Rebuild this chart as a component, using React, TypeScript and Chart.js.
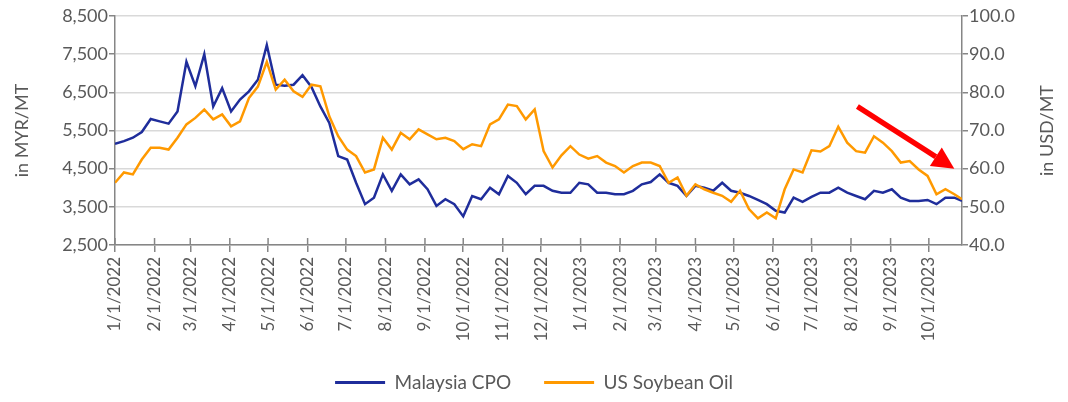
import { useEffect, useRef } from "react"
import { Chart, registerables } from "chart.js"

Chart.register(...registerables)

// Month ticks on the x axis
const tickLabels = [
  "1/1/2022", "2/1/2022", "3/1/2022", "4/1/2022", "5/1/2022", "6/1/2022",
  "7/1/2022", "8/1/2022", "9/1/2022", "10/1/2022", "11/1/2022", "12/1/2022",
  "1/1/2023", "2/1/2023", "3/1/2023", "4/1/2023", "5/1/2023", "6/1/2023",
  "7/1/2023", "8/1/2023", "9/1/2023", "10/1/2023",
]

// Weekly readings starting 1/1/2022, last one on 10/27/2023 (day 664)
const lastDay = 664

// Malaysia CPO, MYR/MT (left axis)
const cpoValues = [
  5150, 5220, 5310, 5460, 5800, 5740, 5680, 6000, 7300, 6660,
  7500, 6130, 6610, 6000, 6310, 6525, 6830, 7740, 6700, 6670,
  6700, 6950, 6640, 6130, 5700, 4830, 4740, 4130, 3570, 3740,
  4350, 3920, 4350, 4090, 4220, 3960, 3525, 3700, 3570, 3250,
  3785, 3700, 4000, 3830, 4310, 4130, 3830, 4050, 4050, 3920,
  3870, 3870, 4130, 4090, 3870, 3870, 3830, 3830, 3920, 4090,
  4150, 4350, 4130, 4050, 3785, 4050, 4000, 3920, 4130, 3920,
  3870, 3785, 3680, 3570, 3395, 3350, 3740, 3630, 3760, 3870,
  3870, 4000, 3870, 3785, 3700, 3920, 3870, 3960, 3740, 3656,
  3656, 3680, 3570, 3740, 3740, 3656,
]

// US Soybean Oil, USD/MT (right axis)
const soyValues = [
  56.3, 59.0, 58.5, 62.4, 65.5, 65.5, 65.0, 68.1, 71.6, 73.3,
  75.5, 72.9, 74.2, 71.1, 72.4, 78.5, 81.5, 88.0, 80.7, 83.3,
  80.3, 78.8, 82.0, 81.6, 73.7, 68.5, 65.0, 63.3, 59.0, 59.8,
  68.1, 65.0, 69.4, 67.7, 70.3, 69.0, 67.7, 68.1, 67.2, 65.1,
  66.4, 65.9, 71.6, 72.9, 76.8, 76.4, 72.9, 75.5, 64.6, 60.3,
  63.5, 65.9, 63.7, 62.6, 63.3, 61.6, 60.7, 59.0, 60.7, 61.6,
  61.6, 60.7, 56.3, 57.7, 52.9, 55.9, 54.6, 53.7, 52.9, 51.3,
  54.2, 49.4, 47.0, 48.5, 47.0, 54.6, 59.8, 59.0, 64.8, 64.5,
  65.9, 71.0, 66.8, 64.6, 64.2, 68.5, 66.8, 64.6, 61.6, 62.0,
  59.8, 58.1, 53.3, 54.6, 53.3, 52.0,
]

// Red trend arrow, in (day, USD/MT) coordinates
const arrowFrom = { day: 582, value: 76.3 }
const arrowTo = { day: 658, value: 60.0 }

const blue = "#1f2d9b"
const orange = "#ff9900"
const axisColor = "#868686"
const textColor = "#595959"

const dayOf = (label: string) => {
  const [m, d, y] = label.split("/").map(Number)
  return (Date.UTC(y, m - 1, d) - Date.UTC(2022, 0, 1)) / 86400000
}
const tickDays = tickLabels.map(dayOf)
const sampleDays = cpoValues.map((_, i) => Math.min(i * 7, lastDay))

const extras = {
  id: "extras",
  afterDraw(chart: any) {
    const { ctx, chartArea, scales } = chart
    const x = scales.x
    const y1 = scales.y1
    ctx.save()

    // inner half of the x tick marks
    ctx.strokeStyle = axisColor
    ctx.lineWidth = 1.5
    tickDays.forEach((d) => {
      const px = x.getPixelForValue(d)
      ctx.beginPath()
      ctx.moveTo(px, chartArea.bottom)
      ctx.lineTo(px, chartArea.bottom - 7)
      ctx.stroke()
    })

    // trend arrow
    const x0 = x.getPixelForValue(arrowFrom.day)
    const y0 = y1.getPixelForValue(arrowFrom.value)
    const xe = x.getPixelForValue(arrowTo.day)
    const ye = y1.getPixelForValue(arrowTo.value)
    const ang = Math.atan2(ye - y0, xe - x0)
    const head = 22
    const half = 11
    const bx = xe - head * Math.cos(ang)
    const by = ye - head * Math.sin(ang)
    ctx.strokeStyle = "#ff0000"
    ctx.fillStyle = "#ff0000"
    ctx.lineWidth = 5.5
    ctx.beginPath()
    ctx.moveTo(x0, y0)
    ctx.lineTo(bx, by)
    ctx.stroke()
    ctx.beginPath()
    ctx.moveTo(xe, ye)
    ctx.lineTo(bx + half * Math.sin(ang), by - half * Math.cos(ang))
    ctx.lineTo(bx - half * Math.sin(ang), by + half * Math.cos(ang))
    ctx.closePath()
    ctx.fill()

    // right axis title, reading bottom to top
    ctx.translate(y1.right - 21, (chartArea.top + chartArea.bottom) / 2)
    ctx.rotate(-Math.PI / 2)
    ctx.fillStyle = textColor
    ctx.font = "18px Lato"
    ctx.textAlign = "center"
    ctx.textBaseline = "middle"
    ctx.fillText("in USD/MT", 0, 0)
    ctx.restore()
  },
}

export default function App() {
  const chartRef = useRef<HTMLCanvasElement>(null)
  const chartInstance = useRef<Chart | null>(null)

  useEffect(() => {
    document.body.style.margin = "0"
    if (!chartRef.current) return
    if (chartInstance.current) chartInstance.current.destroy()
    const ctx = chartRef.current.getContext("2d")
    if (!ctx) return

    Chart.defaults.font.family = "Lato"
    Chart.defaults.color = textColor

    chartInstance.current = new Chart(ctx, {
      type: "line",
      data: {
        datasets: [
          {
            label: "Malaysia CPO",
            data: cpoValues.map((v, i) => ({ x: sampleDays[i], y: v })),
            borderColor: blue,
            backgroundColor: blue,
            borderWidth: 2.5,
            pointRadius: 0,
            tension: 0,
            yAxisID: "y",
            order: 1,
          },
          {
            label: "US Soybean Oil",
            data: soyValues.map((v, i) => ({ x: sampleDays[i], y: v })),
            borderColor: orange,
            backgroundColor: orange,
            borderWidth: 2.5,
            pointRadius: 0,
            tension: 0,
            yAxisID: "y1",
            order: 0,
          },
        ],
      },
      options: {
        responsive: true,
        maintainAspectRatio: false,
        animation: false,
        layout: { padding: { top: 16, left: 0, right: 0, bottom: 0 } },
        scales: {
          x: {
            type: "linear",
            min: 0,
            max: lastDay,
            afterBuildTicks: (scale: any) => {
              scale.ticks = tickDays.map((d) => ({ value: d }))
            },
            afterFit: (scale: any) => {
              scale.height = 95
            },
            ticks: {
              autoSkip: false,
              minRotation: 90,
              maxRotation: 90,
              padding: 5,
              font: { size: 17 },
              callback: (_v: any, i: number) => tickLabels[i],
            },
            grid: {
              drawOnChartArea: false,
              color: axisColor,
              tickLength: 7,
              lineWidth: 1.5,
            },
            border: { color: axisColor, width: 1.5 },
          },
          y: {
            position: "left",
            min: 2500,
            max: 8500,
            afterFit: (scale: any) => {
              scale.width = 115
            },
            ticks: {
              stepSize: 1000,
              padding: 1,
              font: { size: 18 },
            },
            grid: {
              color: "#d9d9d9",
              lineWidth: 1.5,
              tickColor: axisColor,
              tickLength: 6,
            },
            border: { color: axisColor, width: 1.5 },
            title: {
              display: true,
              text: "in MYR/MT",
              font: { size: 18 },
              padding: { top: 11, bottom: 0 },
            },
          },
          y1: {
            position: "right",
            min: 40,
            max: 100,
            afterFit: (scale: any) => {
              scale.width = 106
            },
            ticks: {
              stepSize: 10,
              padding: 1,
              font: { size: 18 },
              callback: (v: any) => Number(v).toFixed(1),
            },
            grid: {
              drawOnChartArea: false,
              color: axisColor,
              tickLength: 6,
              lineWidth: 1.5,
            },
            border: { color: axisColor, width: 1.5 },
          },
        },
        plugins: {
          legend: {
            position: "bottom",
            labels: {
              boxWidth: 50,
              boxHeight: 3,
              padding: 33,
              font: { size: 19 },
              sort: (a: any, b: any) => a.datasetIndex - b.datasetIndex,
              generateLabels: (chart: any) =>
                Chart.defaults.plugins.legend.labels
                  .generateLabels(chart)
                  .map((item: any) => ({ ...item, lineWidth: 0, fillStyle: item.strokeStyle })),
            },
          },
          tooltip: { enabled: false },
        },
      },
      plugins: [extras],
    })

    return () => {
      if (chartInstance.current) {
        chartInstance.current.destroy()
        chartInstance.current = null
      }
    }
  }, [])

  return (
    <div style={{ width: 1068, height: 402, position: "relative" }}>
      <canvas ref={chartRef} />
    </div>
  )
}
